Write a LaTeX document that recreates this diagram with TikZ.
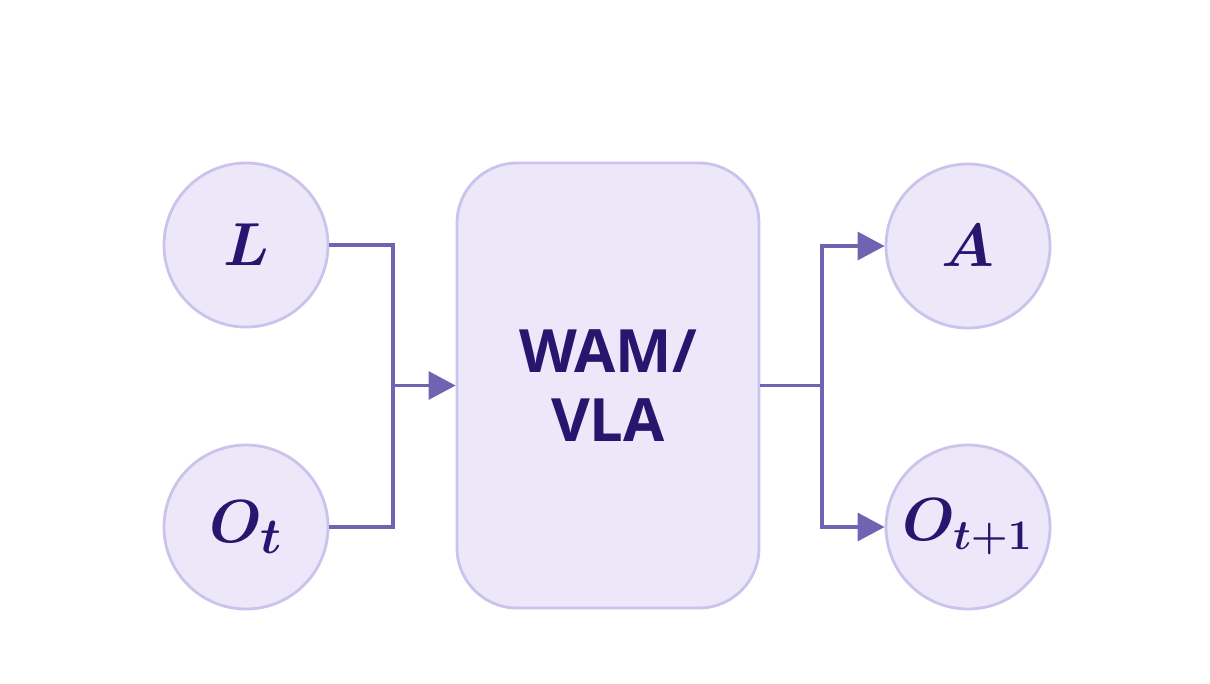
\documentclass[tikz,border=0pt]{standalone}
\usepackage{amsmath,bm}
\usepackage{fontspec}
\setsansfont{Open Sans}
\usetikzlibrary{arrows.meta}
\definecolor{nodefill}{HTML}{ECE8FA}
\definecolor{nodeline}{HTML}{CBC3EC}
\definecolor{wirecol}{HTML}{7162B2}
\definecolor{textcol}{HTML}{28156E}
\tikzset{
  var/.style={circle, draw=nodeline, fill=nodefill, line width=0.8pt, minimum size=1.64cm, inner sep=0pt, text=textcol, font=\fontsize{19}{21}\selectfont},
  model/.style={rectangle, rounded corners=0.6cm, draw=nodeline, fill=nodefill, line width=0.8pt, minimum width=3.02cm, minimum height=4.45cm, align=center, text=textcol, font=\sffamily\bfseries\fontsize{17}{19.5}\selectfont},
  wire/.style={draw=wirecol, line width=0.9pt},
  tip/.style={-{Triangle[length=0.27cm, width=0.28cm]}}
}
\begin{document}
\begin{tikzpicture}
\useasboundingbox (0,0) rectangle (12.1,6.83);
\node [var] (L) at (2.46,4.38) {$\bm{L}$};
\node [var] (Ot) at (2.46,1.56) {$\bm{O_t}$};
\node [model] (wam) at (6.08,2.975) {WAM/\\VLA};
\node [var] (A) at (9.68,4.37) {$\bm{A}$};
\node [var, font=\fontsize{17.5}{20}\selectfont] (Ot1) at (9.68,1.56) {$\bm{O_{t+1}}$};
\coordinate (jl) at (3.93,2.975);  % left joint
\coordinate (jr) at (8.22,2.975);  % right joint
\draw [wire] (L.east) -| (jl) |- (Ot.east);
\draw [wire, tip] (jl) -- (wam.west);
\draw [wire] (wam.east) -- (jr);
\draw [wire, tip] (jr) |- (A.west);
\draw [wire, tip] (jr) |- (Ot1.west);
\end{tikzpicture}
\end{document}
